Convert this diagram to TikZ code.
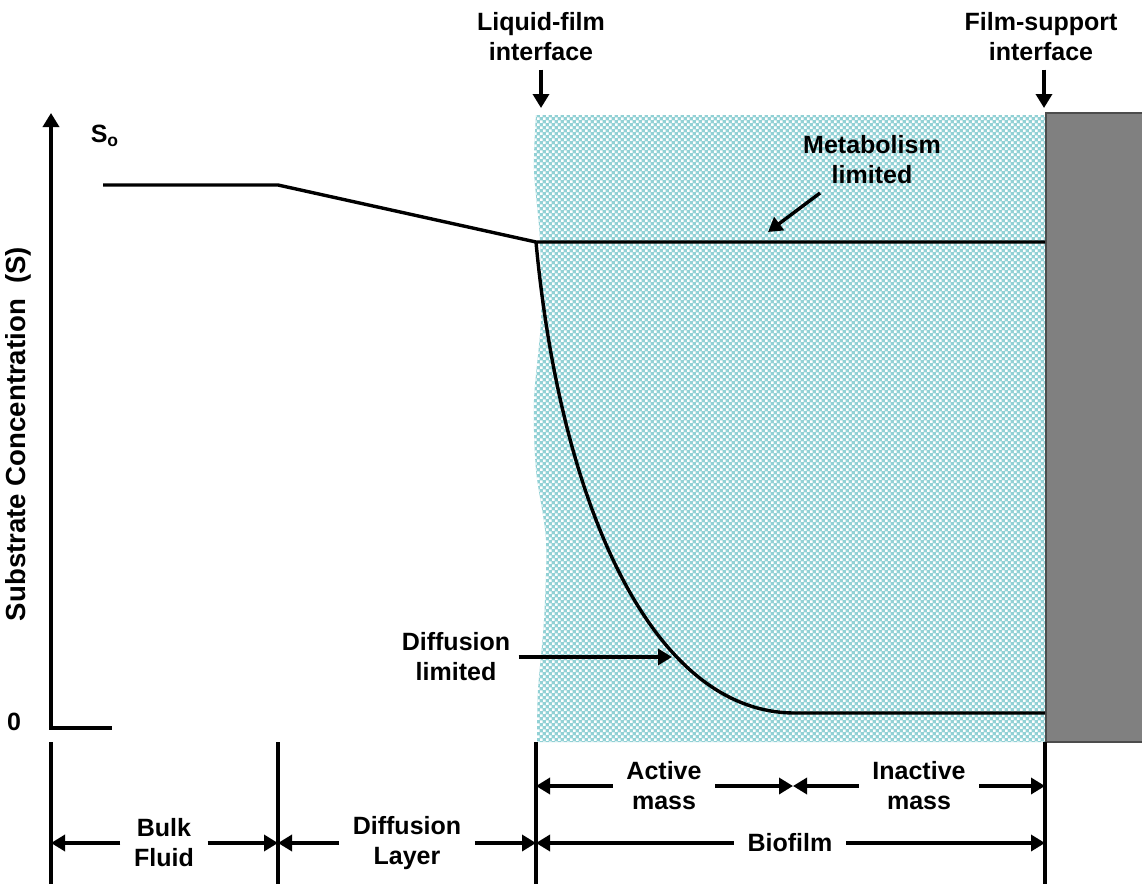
\documentclass[tikz,border=0pt]{standalone}
\usepackage{fontspec}
\setmainfont{Liberation Sans}
\usetikzlibrary{arrows.meta,positioning,calc,patterns}
\definecolor{filmteal}{RGB}{146,209,213}
\definecolor{wallgray}{RGB}{128,128,128}
\pgfdeclarepatternformonly{finechecker}{\pgfpointorigin}{\pgfqpoint{3.2pt}{3.2pt}}{\pgfqpoint{3.2pt}{3.2pt}}{%
  \pgfpathrectangle{\pgfqpoint{0.1pt}{0.1pt}}{\pgfqpoint{1.4pt}{1.4pt}}%
  \pgfpathrectangle{\pgfqpoint{1.7pt}{1.7pt}}{\pgfqpoint{1.4pt}{1.4pt}}%
  \pgfusepath{fill}}

\begin{document}
\begin{tikzpicture}[x=0.5pt,y=-0.5pt,>={Triangle[length=7pt,width=8pt]},line width=1.7pt,
  every node/.style={font=\bfseries\fontsize{12.5}{15}\selectfont,align=center},
  dimlabel/.style={inner xsep=6pt,inner ysep=1pt}]
  \useasboundingbox (0,0) rectangle (1142,884);
  % biofilm and support
  \path[pattern=finechecker,pattern color=white,preaction={fill=filmteal}]
    plot[smooth] coordinates {(536,115) (534,170) (540,240) (541,320) (534,400) (536,470) (546,540) (544,620) (538,690) (537,742)}
    -- (1045,742) -- (1045,115) -- cycle;
  \draw[line width=0.6pt,draw=black!70,fill=wallgray] (1046,113) rectangle (1150,742);

  % axis
  \coordinate (org) at (51,728);
  \coordinate (ytop) at (51,113);
  \coordinate (xend) at (112,728);
  \draw[<-] (ytop) -- (org) -- (xend);
  \node[rotate=90,font=\bfseries\fontsize{13.8}{16}\selectfont] (ylab) at (18,434) {Substrate Concentration~~(S)};
  \node (so) at (105,136) {S\textsubscript{o}};
  \node (zero) at (14,722) {0};

  % concentration profile
  \coordinate (s0) at (103,185);
  \coordinate (s1) at (278,185);
  \coordinate (s2) at (536,242);
  \coordinate (m1) at (1045,242);
  \coordinate (d1) at (795,713);
  \coordinate (d2) at (1045,713);
  \draw (s0) -- (s1) -- (s2) -- (m1);
  \draw (s2) .. controls (560,500) and (650,713) .. (d1) -- (d2);

  % interfaces
  \node (lftext) at (541,37) {Liquid-film\\interface};
  \coordinate (lfTip) at (541,108);
  \draw[->] (lftext.south) -- (lfTip);
  \node (fstext) at (1041,37) {Film-support\\interface};
  \coordinate (fsTip) at (1044,108);
  \draw[->] (fstext.south -| fsTip) -- (fsTip);

  % regimes
  \node (metab) at (872,160) {Metabolism\\limited};
  \coordinate (mTail) at (820,193);
  \coordinate (mTip) at (768,232);
  \draw[->] (mTail) -- (mTip);
  \node (diff) at (456,657) {Diffusion\\limited};
  \coordinate (dTip) at (672,657);
  \draw[->] (diff.east) -- (dTip);

  % dimension lines
  \coordinate (vA) at (51,742);
  \coordinate (vB) at (278,742);
  \coordinate (vC) at (536,742);
  \coordinate (vD) at (1045,742);
  \coordinate (vM) at (793,785);
  \foreach \v in {vA,vB,vC,vD}
    \draw (\v) -- ++(0,142);
  \node[dimlabel] (bulk) at (164,843) {Bulk\\Fluid};
  \node[dimlabel] (difl) at (407,843) {Diffusion\\Layer};
  \node[dimlabel] (bio) at (790,843) {Biofilm};
  \node[dimlabel] (act) at (664,786) {Active\\mass};
  \node[dimlabel] (inact) at (919,786) {Inactive\\mass};
  \draw[->] (bulk.west) -- (bulk.west -| vA);
  \draw[->] (bulk.east) -- (bulk.east -| vB);
  \draw[->] (difl.west) -- (difl.west -| vB);
  \draw[->] (difl.east) -- (difl.east -| vC);
  \draw[->] (bio.west) -- (bio.west -| vC);
  \draw[->] (bio.east) -- (bio.east -| vD);
  \draw[->] (act.west) -- (act.west -| vC);
  \draw[->] (act.east) -- (act.east -| vM);
  \draw[->] (inact.west) -- (inact.west -| vM);
  \draw[->] (inact.east) -- (inact.east -| vD);
\end{tikzpicture}
\end{document}
